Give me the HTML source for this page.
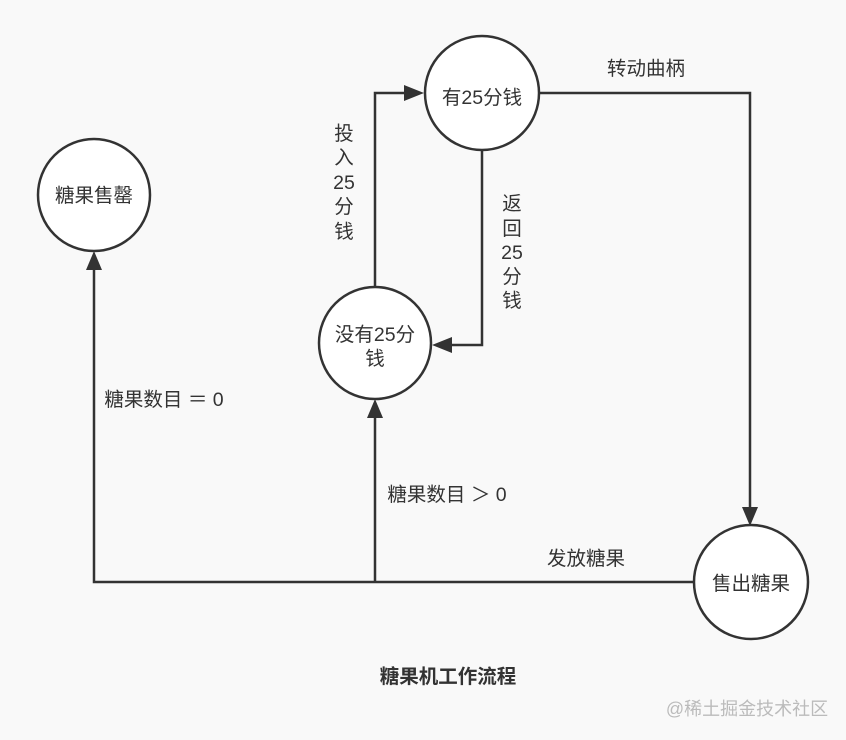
<!DOCTYPE html>
<html><head><meta charset="utf-8"><style>
html,body{margin:0;padding:0;background:#f9f9f9;}
svg{display:block;}
text{font-family:"Liberation Sans","Noto Sans CJK SC",sans-serif;fill:#333;font-size:19.5px;}
</style></head><body>
<svg width="846" height="740" viewBox="0 0 846 740" xmlns="http://www.w3.org/2000/svg">
<rect width="846" height="740" fill="#f9f9f9"/>
<g fill="none" stroke="#333" stroke-width="2.5">
<polyline points="694,582 94,582 94,266"/>
<polyline points="375,582 375,414"/>
<polyline points="375,286 375,93 410,93"/>
<polyline points="482,150 482,345 446,345"/>
<polyline points="539,93 750,93 750,512"/>
</g>
<g fill="#333">
<polygon points="94,251 86,270 102,270"/>
<polygon points="375,399 367,418 383,418"/>
<polygon points="424,93 404,85 404,101"/>
<polygon points="432,345 452,337 452,353"/>
<polygon points="750,526 742,507 758,507"/>
</g>
<g fill="#fff" stroke="#333" stroke-width="2.5">
<circle cx="94" cy="195" r="56"/>
<circle cx="482" cy="93" r="57"/>
<circle cx="375" cy="343" r="56"/>
<circle cx="751" cy="582" r="57"/>
</g>
<g text-anchor="middle">
<text x="94" y="202">糖果售罄</text>
<text x="482" y="104">有25分钱</text>
<text x="375" y="341">没有25分</text>
<text x="375" y="365">钱</text>
<text x="751" y="590">售出糖果</text>
<text x="646" y="75">转动曲柄</text>
<text x="344" y="140">投</text>
<text x="344" y="164">入</text>
<text x="344" y="189">25</text>
<text x="344" y="213">分</text>
<text x="344" y="238">钱</text>
<text x="512" y="210">返</text>
<text x="512" y="235">回</text>
<text x="512" y="259">25</text>
<text x="512" y="283">分</text>
<text x="512" y="307">钱</text>
<text x="164" y="406">糖果数目 ＝ 0</text>
<text x="447" y="501">糖果数目 ＞ 0</text>
<text x="586" y="565">发放糖果</text>
<text x="448" y="683" style="font-weight:bold">糖果机工作流程</text>
<text x="747" y="715" style="fill:#bbb;font-size:18px">@稀土掘金技术社区</text>
</g>
</svg>
</body></html>
